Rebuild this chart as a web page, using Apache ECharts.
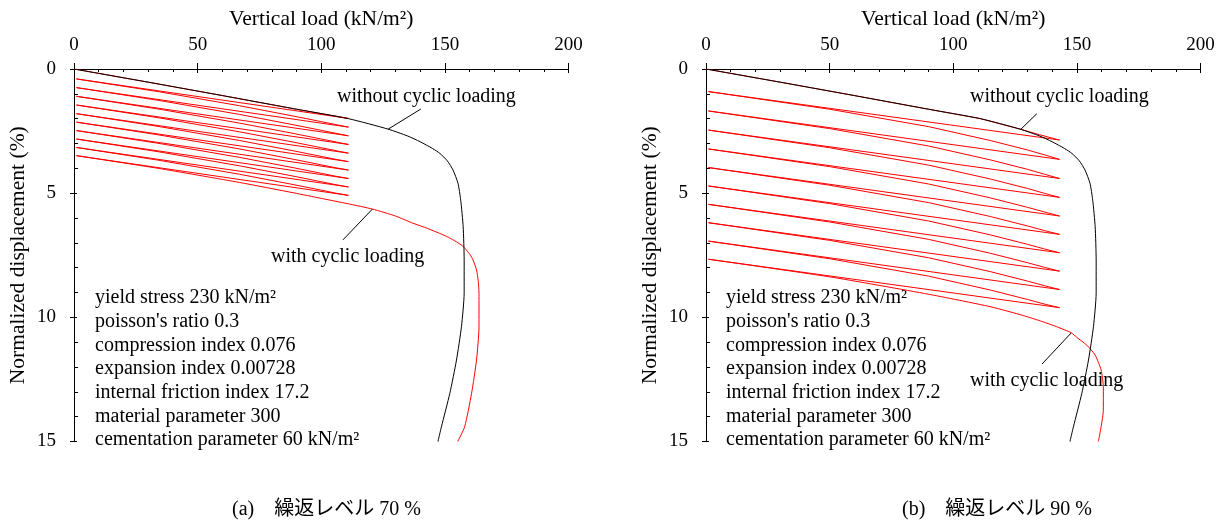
<!DOCTYPE html>
<html><head><meta charset="utf-8">
<script src="https://cdn.jsdelivr.net/npm/echarts@6/dist/echarts.min.js"></script>
<style>html,body{margin:0;padding:0;background:#fff}#c{width:1223px;height:524px}</style>
</head><body><div id="c"></div>
<script>
// ---------- data ----------
const loadRange = [0, 200];           // Vertical load (kN/m2)
const loadInterval = 50;
const dispRange = [0, 15];            // Normalized displacement (%)
const dispInterval = 5;

// monotonic loading (black), same in both panels
const monoLoad = [0, 30, 60, 90, 111, 127, 135, 140, 145, 148, 151, 153.3, 155.3, 156.4, 157.4, 157.8, 157.8, 156.7, 154.7, 152.0, 148.6, 147.2];
const monoDisp = [0, 0.53, 1.07, 1.62, 2.00, 2.42, 2.70, 2.93, 3.20, 3.40, 3.70, 4.07, 4.60, 5.28, 6.35, 7.69, 9.03, 10.38, 11.72, 13.06, 14.41, 15.0];

// ---- panel (a): cyclic level 70 % ----
const peakLoadA = 111, minLoadA = 1;
const initLoadA = [0, 30, 60, 90, 111];
const initDispA = [0, 0.53, 1.07, 1.62, 1.99];
const peakDispA = [1.99, 2.34, 2.69, 3.04, 3.39, 3.73, 4.07, 4.41, 4.75, 5.09];
const minDispA  = [0.40, 0.75, 1.10, 1.45, 1.80, 2.14, 2.48, 2.82, 3.16, 3.49];
const reloadLoadA = [1, 34, 67, 89, 100, 106, 111];
const reloadDispA = [
  [0.40, 0.91, 1.48, 1.90, 2.12, 2.24, 2.34],
  [0.75, 1.26, 1.83, 2.25, 2.47, 2.59, 2.69],
  [1.10, 1.61, 2.18, 2.60, 2.82, 2.94, 3.04],
  [1.45, 1.96, 2.53, 2.95, 3.17, 3.29, 3.39],
  [1.80, 2.31, 2.88, 3.30, 3.52, 3.64, 3.73],
  [2.14, 2.65, 3.22, 3.64, 3.86, 3.98, 4.07],
  [2.48, 2.99, 3.56, 3.98, 4.20, 4.32, 4.41],
  [2.82, 3.33, 3.90, 4.32, 4.54, 4.66, 4.75],
  [3.16, 3.67, 4.24, 4.66, 4.88, 5.00, 5.09]
];
const finalLoadA = [1, 34, 67, 89, 100, 111, 120.7, 130, 137.1, 143, 147.9, 151.5, 154.7, 157, 158.7, 160.2, 161.4, 162.8, 163.5, 163.8, 163.8, 162.8, 160.8, 158.0, 155.2];
const finalDispA = [3.49, 4.00, 4.57, 4.99, 5.21, 5.43, 5.64, 5.92, 6.21, 6.42, 6.62, 6.78, 6.96, 7.11, 7.29, 7.48, 7.69, 8.09, 8.55, 9.03, 10.38, 11.72, 13.06, 14.41, 15.0];

// ---- panel (b): cyclic level 90 % ----
const peakLoadB = 143, minLoadB = 1;
const initLoadB = [0, 30, 60, 90, 111, 127, 135, 143];
const initDispB = [0, 0.53, 1.07, 1.62, 2.00, 2.42, 2.65, 2.86];
const peakDispB = [2.86, 3.64, 4.41, 5.17, 5.92, 6.66, 7.40, 8.14, 8.88, 9.61];
const minDispB  = [0.91, 1.69, 2.46, 3.22, 3.97, 4.71, 5.45, 6.19, 6.93, 7.66];
const reloadLoadB = [1, 50, 90, 115, 130, 137, 143];
const reloadDispB = [
  [0.91, 1.62, 2.32, 2.88, 3.26, 3.46, 3.64],
  [1.69, 2.40, 3.10, 3.66, 4.04, 4.24, 4.41],
  [2.46, 3.17, 3.87, 4.43, 4.81, 5.01, 5.17],
  [3.22, 3.93, 4.63, 5.19, 5.57, 5.76, 5.92],
  [3.97, 4.68, 5.38, 5.94, 6.32, 6.51, 6.66],
  [4.71, 5.42, 6.12, 6.68, 7.06, 7.25, 7.40],
  [5.45, 6.16, 6.86, 7.42, 7.80, 7.99, 8.14],
  [6.19, 6.90, 7.60, 8.16, 8.54, 8.73, 8.88],
  [6.93, 7.64, 8.34, 8.90, 9.28, 9.47, 9.61]
];
const finalLoadB = [1, 50, 90, 114.9, 128.4, 136, 141.9, 147.7, 150.0, 154.0, 157.4, 159.8, 160.7, 160.7, 158.7];
const finalDispB = [7.66, 8.37, 9.07, 9.57, 9.93, 10.17, 10.38, 10.62, 10.81, 11.12, 11.52, 12.12, 12.80, 13.73, 15.0];

// leader lines [load, disp]
const leaderMonoA = [[127.1, 2.42], [140.3, 1.61]];
const leaderCycA  = [[120.7, 5.64], [108.8, 6.88]];
const leaderMonoB = [[127.4, 2.42], [133.8, 1.80]];
const leaderCycB  = [[147.7, 10.63], [135.9, 11.88]];

// texts
const xName = 'Vertical load (kN/m²)';
const yName = 'Normalized displacement (%)';
const monoLabel = 'without cyclic loading';
const cycLabel = 'with cyclic loading';
const paramLines = ['yield stress 230 kN/m²', "poisson's ratio 0.3", 'compression index 0.076',
  'expansion index 0.00728', 'internal friction index 17.2', 'material parameter 300',
  'cementation parameter 60 kN/m²'];
const captionA = '(a)　繰返レベル 70 %';
const captionB = '(b)　繰返レベル 90 %';

// ---------- chart ----------
const FONT = '"Liberation Serif", "Times New Roman", serif';
const RED = '#ff0000', BLACK = '#000000';
const zip = (xs, ys) => xs.map((x, i) => [x, ys[i]]);

const grids = [
  { left: 74, top: 69, width: 494.5, height: 372.5, containLabel: false, outerBoundsMode: 'none' },
  { left: 706, top: 69, width: 494.5, height: 372.5, containLabel: false, outerBoundsMode: 'none' }
];
const xAxes = [], yAxes = [];
grids.forEach((g, gi) => {
  xAxes.push({
    gridIndex: gi, type: 'value', position: 'top', min: loadRange[0], max: loadRange[1], interval: loadInterval,
    axisLine: { show: true, onZero: false, lineStyle: { color: BLACK, width: 1 } },
    axisTick: { show: true, inside: false, length: 6, lineStyle: { color: BLACK } },
    minorTick: { show: false }, splitLine: { show: false },
    axisLabel: { color: BLACK, fontFamily: FONT, fontSize: 19, margin: 14 },
    name: xName, nameLocation: 'middle', nameGap: 39,
    nameTextStyle: { color: BLACK, fontFamily: FONT, fontSize: 21.5 }
  });
  xAxes.push({
    gridIndex: gi, type: 'value', position: 'top', min: loadRange[0], max: loadRange[1], interval: loadInterval,
    axisLine: { show: false }, axisLabel: { show: false }, splitLine: { show: false },
    axisTick: { show: true, inside: true, length: 4, lineStyle: { color: BLACK } },
    minorTick: { show: true, splitNumber: 5, length: 3, lineStyle: { color: BLACK } }
  });
  yAxes.push({
    gridIndex: gi, type: 'value', position: 'left', inverse: true, min: dispRange[0], max: dispRange[1], interval: dispInterval,
    axisLine: { show: true, onZero: false, lineStyle: { color: BLACK, width: 1 } },
    axisTick: { show: true, inside: false, length: 4, lineStyle: { color: BLACK } },
    minorTick: { show: false }, splitLine: { show: false },
    axisLabel: { color: BLACK, fontFamily: FONT, fontSize: 19, margin: 18 },
    name: yName, nameLocation: 'middle', nameGap: 45, nameRotate: 90,
    nameTextStyle: { color: BLACK, fontFamily: FONT, fontSize: 21.5 }
  });
  yAxes.push({
    gridIndex: gi, type: 'value', position: 'left', inverse: true, min: dispRange[0], max: dispRange[1], interval: dispInterval,
    axisLine: { show: false }, axisLabel: { show: false }, splitLine: { show: false },
    axisTick: { show: true, inside: true, length: 3, lineStyle: { color: BLACK } },
    minorTick: { show: true, splitNumber: 5, length: 4, lineStyle: { color: BLACK } }
  });
});

const series = [];
function addLine(panel, data, color, opts) {
  series.push(Object.assign({
    type: 'line', xAxisIndex: panel * 2, yAxisIndex: panel * 2, data: data,
    showSymbol: false, symbol: 'none', silent: true, clip: true,
    lineStyle: { color: color, width: 1 }, z: 2
  }, opts || {}));
}

function buildPanel(p, initL, initD, peakL, minL, peakD, minD, reL, reD, finL, finD, lm, lc) {
  addLine(p, zip(initL, initD), RED);
  for (let i = 0; i < peakD.length; i++) {
    addLine(p, [[peakL, peakD[i]], [minL, minD[i]]], RED);            // unloading
    if (i < reD.length) addLine(p, zip(reL, reD[i]), RED);            // reloading
  }
  addLine(p, zip(finL, finD), RED, { smooth: 0.2 });
  addLine(p, zip(monoLoad, monoDisp), BLACK, { smooth: 0.2, z: 3 });
  addLine(p, lm, BLACK, { z: 4 });
  addLine(p, lc, BLACK, { z: 4 });
}
buildPanel(0, initLoadA, initDispA, peakLoadA, minLoadA, peakDispA, minDispA, reloadLoadA, reloadDispA, finalLoadA, finalDispA, leaderMonoA, leaderCycA);
buildPanel(1, initLoadB, initDispB, peakLoadB, minLoadB, peakDispB, minDispB, reloadLoadB, reloadDispB, finalLoadB, finalDispB, leaderMonoB, leaderCycB);

function txt(x, y, text, extra) {
  return { type: 'text', x: x, y: y, silent: true,
    style: Object.assign({ text: text, fill: BLACK, fontFamily: FONT, fontSize: 20, verticalAlign: 'middle', align: 'left' }, extra || {}) };
}
const CJK = '"Liberation Serif", "Noto Sans CJK JP", serif';
const graphic = [
  txt(337, 97, monoLabel), txt(271, 257, cycLabel),
  txt(970, 97, monoLabel), txt(970, 381, cycLabel),
  txt(95, 286, paramLines.join('\n'), { verticalAlign: 'top', lineHeight: 23.7 }),
  txt(726, 286, paramLines.join('\n'), { verticalAlign: 'top', lineHeight: 23.7 }),
  txt(232, 510, captionA, { fontFamily: CJK }),
  txt(902, 510, captionB, { fontFamily: CJK })
];

const chart = echarts.init(document.getElementById('c'), null, { renderer: 'canvas' });
chart.setOption({
  animation: false, backgroundColor: '#ffffff',
  grid: grids, xAxis: xAxes, yAxis: yAxes, series: series, graphic: graphic
});
</script></body></html>
